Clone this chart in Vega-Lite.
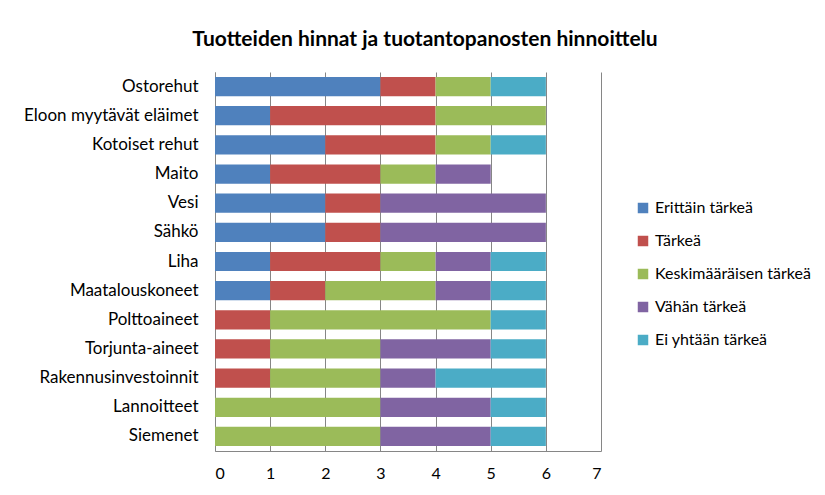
{
  "$schema": "https://vega.github.io/schema/vega-lite/v6.json",
  "width": 386,
  "height": 379,
  "autosize": {"type": "none"},
  "padding": {"left": 215, "top": 72, "right": 224, "bottom": 44},
  "background": "white",
  "title": {
    "text": "Tuotteiden hinnat ja tuotantopanosten hinnoittelu",
    "font": "Lato",
    "fontSize": 21,
    "fontWeight": "bold",
    "color": "#000000",
    "anchor": "middle",
    "offset": 22,
    "dx": 17
  },
  "data": {
    "values": [
      {"tuote": "Ostorehut", "taso": "Erittäin tärkeä", "k": 1, "n": 3},
      {"tuote": "Ostorehut", "taso": "Tärkeä", "k": 2, "n": 1},
      {"tuote": "Ostorehut", "taso": "Keskimääräisen tärkeä", "k": 3, "n": 1},
      {"tuote": "Ostorehut", "taso": "Ei yhtään tärkeä", "k": 5, "n": 1},
      {"tuote": "Eloon myytävät eläimet", "taso": "Erittäin tärkeä", "k": 1, "n": 1},
      {"tuote": "Eloon myytävät eläimet", "taso": "Tärkeä", "k": 2, "n": 3},
      {"tuote": "Eloon myytävät eläimet", "taso": "Keskimääräisen tärkeä", "k": 3, "n": 2},
      {"tuote": "Kotoiset rehut", "taso": "Erittäin tärkeä", "k": 1, "n": 2},
      {"tuote": "Kotoiset rehut", "taso": "Tärkeä", "k": 2, "n": 2},
      {"tuote": "Kotoiset rehut", "taso": "Keskimääräisen tärkeä", "k": 3, "n": 1},
      {"tuote": "Kotoiset rehut", "taso": "Ei yhtään tärkeä", "k": 5, "n": 1},
      {"tuote": "Maito", "taso": "Erittäin tärkeä", "k": 1, "n": 1},
      {"tuote": "Maito", "taso": "Tärkeä", "k": 2, "n": 2},
      {"tuote": "Maito", "taso": "Keskimääräisen tärkeä", "k": 3, "n": 1},
      {"tuote": "Maito", "taso": "Vähän tärkeä", "k": 4, "n": 1},
      {"tuote": "Vesi", "taso": "Erittäin tärkeä", "k": 1, "n": 2},
      {"tuote": "Vesi", "taso": "Tärkeä", "k": 2, "n": 1},
      {"tuote": "Vesi", "taso": "Vähän tärkeä", "k": 4, "n": 3},
      {"tuote": "Sähkö", "taso": "Erittäin tärkeä", "k": 1, "n": 2},
      {"tuote": "Sähkö", "taso": "Tärkeä", "k": 2, "n": 1},
      {"tuote": "Sähkö", "taso": "Vähän tärkeä", "k": 4, "n": 3},
      {"tuote": "Liha", "taso": "Erittäin tärkeä", "k": 1, "n": 1},
      {"tuote": "Liha", "taso": "Tärkeä", "k": 2, "n": 2},
      {"tuote": "Liha", "taso": "Keskimääräisen tärkeä", "k": 3, "n": 1},
      {"tuote": "Liha", "taso": "Vähän tärkeä", "k": 4, "n": 1},
      {"tuote": "Liha", "taso": "Ei yhtään tärkeä", "k": 5, "n": 1},
      {"tuote": "Maatalouskoneet", "taso": "Erittäin tärkeä", "k": 1, "n": 1},
      {"tuote": "Maatalouskoneet", "taso": "Tärkeä", "k": 2, "n": 1},
      {"tuote": "Maatalouskoneet", "taso": "Keskimääräisen tärkeä", "k": 3, "n": 2},
      {"tuote": "Maatalouskoneet", "taso": "Vähän tärkeä", "k": 4, "n": 1},
      {"tuote": "Maatalouskoneet", "taso": "Ei yhtään tärkeä", "k": 5, "n": 1},
      {"tuote": "Polttoaineet", "taso": "Tärkeä", "k": 2, "n": 1},
      {"tuote": "Polttoaineet", "taso": "Keskimääräisen tärkeä", "k": 3, "n": 4},
      {"tuote": "Polttoaineet", "taso": "Ei yhtään tärkeä", "k": 5, "n": 1},
      {"tuote": "Torjunta-aineet", "taso": "Tärkeä", "k": 2, "n": 1},
      {"tuote": "Torjunta-aineet", "taso": "Keskimääräisen tärkeä", "k": 3, "n": 2},
      {"tuote": "Torjunta-aineet", "taso": "Vähän tärkeä", "k": 4, "n": 2},
      {"tuote": "Torjunta-aineet", "taso": "Ei yhtään tärkeä", "k": 5, "n": 1},
      {"tuote": "Rakennusinvestoinnit", "taso": "Tärkeä", "k": 2, "n": 1},
      {"tuote": "Rakennusinvestoinnit", "taso": "Keskimääräisen tärkeä", "k": 3, "n": 2},
      {"tuote": "Rakennusinvestoinnit", "taso": "Vähän tärkeä", "k": 4, "n": 1},
      {"tuote": "Rakennusinvestoinnit", "taso": "Ei yhtään tärkeä", "k": 5, "n": 2},
      {"tuote": "Lannoitteet", "taso": "Keskimääräisen tärkeä", "k": 3, "n": 3},
      {"tuote": "Lannoitteet", "taso": "Vähän tärkeä", "k": 4, "n": 2},
      {"tuote": "Lannoitteet", "taso": "Ei yhtään tärkeä", "k": 5, "n": 1},
      {"tuote": "Siemenet", "taso": "Keskimääräisen tärkeä", "k": 3, "n": 3},
      {"tuote": "Siemenet", "taso": "Vähän tärkeä", "k": 4, "n": 2},
      {"tuote": "Siemenet", "taso": "Ei yhtään tärkeä", "k": 5, "n": 1}
    ]
  },
  "mark": {"type": "bar"},
  "encoding": {
    "y": {
      "field": "tuote",
      "type": "nominal",
      "sort": ["Ostorehut", "Eloon myytävät eläimet", "Kotoiset rehut", "Maito", "Vesi", "Sähkö", "Liha", "Maatalouskoneet", "Polttoaineet", "Torjunta-aineet", "Rakennusinvestoinnit", "Lannoitteet", "Siemenet"],
      "scale": {"paddingInner": 0.34, "paddingOuter": 0.17},
      "axis": {
        "title": null,
        "ticks": false,
        "domain": true,
        "domainColor": "#868686",
        "domainWidth": 1,
        "labelFont": "Lato",
        "labelFontSize": 17,
        "labelColor": "#000000",
        "labelPadding": 17,
        "labelLimit": 300,
        "grid": false
      }
    },
    "x": {
      "field": "n",
      "type": "quantitative",
      "stack": "zero",
      "scale": {"domain": [0, 7], "nice": false},
      "axis": {
        "title": null,
        "values": [0, 1, 2, 3, 4, 5, 6, 7],
        "grid": true,
        "gridColor": "#868686",
        "gridWidth": 1,
        "ticks": false,
        "domain": true,
        "domainColor": "#868686",
        "labelFont": "Lato",
        "labelFontSize": 16,
        "labelColor": "#000000",
        "labelPadding": 14
      }
    },
    "color": {
      "field": "taso",
      "type": "nominal",
      "scale": {
        "domain": ["Erittäin tärkeä", "Tärkeä", "Keskimääräisen tärkeä", "Vähän tärkeä", "Ei yhtään tärkeä"],
        "range": ["#4F81BD", "#C0504D", "#9BBB59", "#8064A2", "#4BACC6"]
      },
      "legend": {
        "title": null,
        "orient": "none",
        "legendX": 420,
        "legendY": 128,
        "symbolType": "square",
        "symbolSize": 110,
        "symbolStrokeWidth": 0,
        "labelFont": "Lato",
        "labelFontSize": 16,
        "labelLimit": 300,
        "labelColor": "#000000",
        "labelOffset": 4,
        "rowPadding": 17
      }
    },
    "order": {"field": "k", "type": "quantitative"}
  },
  "config": {
    "view": {"stroke": null}
  }
}
